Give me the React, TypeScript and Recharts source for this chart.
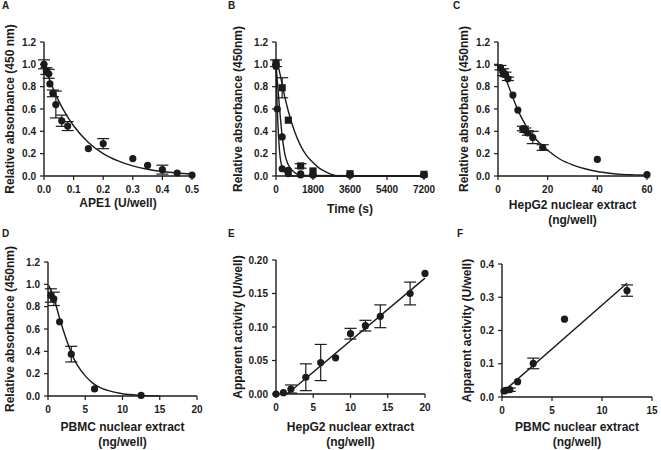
import React from "react";
import { ComposedChart, XAxis, YAxis, Line, Scatter, ErrorBar } from "recharts";

// A: APE1 titration
const apeDose = [0, 0.008, 0.016, 0.02, 0.03, 0.04, 0.06, 0.08, 0.15, 0.2, 0.3, 0.35, 0.4, 0.45, 0.5];
const apeAbs = [1.0, 0.94, 0.915, 0.825, 0.74, 0.64, 0.495, 0.447, 0.246, 0.29, 0.156, 0.096, 0.057, 0.027, 0.009];
const apeErr = [0.04, 0.03, 0.04, 0, 0.03, 0.12, 0.05, 0.04, 0, 0.045, 0, 0, 0.04, 0, 0];
const apeFitX = [0, 0.025, 0.05, 0.075, 0.1, 0.15, 0.2, 0.25, 0.3, 0.35, 0.4, 0.45, 0.5];
const apeFitY = [1.0, 0.82, 0.67, 0.55, 0.45, 0.3, 0.2, 0.135, 0.09, 0.06, 0.04, 0.027, 0.018];

// B: time course, three conditions
const timeSlow = [0, 300, 600, 1200, 1800, 3600, 7200];
const absSlow = [1.01, 0.79, 0.5, 0.09, 0.045, 0.02, 0.015];
const errSlow = [0.03, 0.09, 0, 0.02, 0, 0, 0];
const timeMid = [0, 300, 600, 1200, 1800, 3600, 7200];
const absMid = [1.0, 0.35, 0.05, 0.02, 0.01, 0.01, 0.01];
const timeFast = [0, 60, 300, 600, 1200, 1800, 3600, 7200];
const absFast = [0.98, 0.6, 0.065, 0.02, 0.01, 0.01, 0.01, 0.01];
const slowFitX = [0, 150, 300, 450, 600, 900, 1200, 1500, 1800, 2100, 2400, 2700, 3000, 7200];
const slowFitY = [1.05, 0.95, 0.82, 0.69, 0.58, 0.4, 0.27, 0.18, 0.12, 0.07, 0.04, 0.015, 0.0, 0.0];
const midFitX = [0, 100, 200, 300, 450, 600, 800, 1000, 1300, 7200];
const midFitY = [1.0, 0.77, 0.55, 0.36, 0.18, 0.1, 0.05, 0.02, 0.005, 0.0];
const fastFitX = [0, 50, 100, 150, 200, 300, 400, 600, 800, 7200];
const fastFitY = [1.0, 0.66, 0.44, 0.28, 0.17, 0.08, 0.04, 0.01, 0.0, 0.0];

// C: HepG2 nuclear extract titration
const hepDose = [1, 2, 3, 4, 6, 8, 10, 11, 12, 14, 18, 40, 60];
const hepAbs = [0.97, 0.93, 0.91, 0.87, 0.725, 0.59, 0.425, 0.41, 0.385, 0.345, 0.255, 0.148, 0.012];
const hepErr = [0.02, 0.03, 0.02, 0.015, 0, 0, 0.02, 0.02, 0.02, 0.055, 0.025, 0, 0];
const hepFitX = [0.5, 2, 4, 6, 8, 10, 12, 14, 17, 20, 25, 30, 35, 40, 45, 50, 55, 60];
const hepFitY = [0.99, 0.93, 0.82, 0.7, 0.59, 0.5, 0.42, 0.36, 0.29, 0.23, 0.15, 0.1, 0.065, 0.04, 0.025, 0.015, 0.01, 0.006];

// D: PBMC nuclear extract titration
const pbmcDose = [0.39, 0.78, 1.56, 3.125, 6.25, 12.5];
const pbmcAbs = [0.9, 0.87, 0.665, 0.375, 0.063, 0.005];
const pbmcErr = [0.06, 0.06, 0, 0.07, 0, 0];
const pbmcFitX = [0.1, 0.5, 1, 1.5, 2, 2.5, 3, 3.5, 4, 5, 6, 7, 8, 10, 12.5, 15];
const pbmcFitY = [0.99, 0.93, 0.83, 0.71, 0.6, 0.5, 0.41, 0.33, 0.27, 0.18, 0.115, 0.075, 0.05, 0.02, 0.006, 0.001];

// E: HepG2 apparent activity
const hepActDose = [0, 1, 2, 4, 6, 8, 10, 12, 14, 18, 20];
const hepAct = [0, 0.002, 0.0075, 0.025, 0.047, 0.054, 0.09, 0.102, 0.116, 0.15, 0.18];
const hepActErr = [0, 0, 0.006, 0.02, 0.027, 0, 0.008, 0.008, 0.017, 0.017, 0];
const hepLineX = [1.5, 20];
const hepLineY = [0.0, 0.173];

// F: PBMC apparent activity
const pbmcActDose = [0.2, 0.39, 0.78, 1.56, 3.125, 6.25, 12.5];
const pbmcAct = [0.018, 0.02, 0.022, 0.046, 0.101, 0.234, 0.32];
const pbmcActErr = [0, 0, 0.005, 0, 0.016, 0, 0.017];
const pbmcLineX = [0.2, 12.5];
const pbmcLineY = [0.018, 0.342];

const FONT = "'Liberation Sans', Arial, sans-serif";
const INK = "#1b1b1b";

const pts = (xs: number[], ys: number[], es?: number[]) =>
  xs.map((x, i) => ({ x, y: ys[i], e: es ? es[i] : 0 }));

const dot = (p: any) => <circle cx={p.cx} cy={p.cy} r={3.6} fill={INK} />;
const square = (p: any) => <rect x={p.cx - 3.6} y={p.cy - 3.6} width={7.2} height={7.2} fill={INK} />;

const tickStyle = { fontSize: 10, fontWeight: 700, fill: INK, fontFamily: FONT };
const titleStyle = { fontSize: 12, fontWeight: 700, fill: INK, fontFamily: FONT };

interface Series { data: { x: number; y: number; e: number }[]; shape: any; }

interface PanelProps {
  letter: string;
  ox: number; oy: number; w: number;
  L: number; R: number; T: number; B: number;
  xDomain: [number, number]; xTicks: number[]; xFmt?: (v: number) => string;
  yDomain: [number, number]; yTicks: number[]; yFmt: (v: number) => string;
  yTitle: string; yTitleX: number;
  xTitle: string[]; xTitleY: number;
  series: Series[];
  curves: { x: number; y: number }[][];
}

function Panel(p: PanelProps) {
  const h = 238;
  const top = p.T - p.oy;
  const plotH = p.B - p.T;
  const bottom = h - (p.B - p.oy) - 40;
  const right = p.w - (p.R - p.ox);
  const cy = top + plotH / 2;
  const cx = p.L - p.ox + (p.R - p.L) / 2;
  const axisProps = {
    stroke: INK,
    axisLine: { stroke: INK, strokeWidth: 1.4 },
    tickLine: { stroke: INK, strokeWidth: 1.2 },
    tickSize: 4,
    tick: tickStyle,
  };
  return (
    <div style={{ position: "absolute", left: p.ox, top: p.oy, width: p.w, height: h }}>
      <div style={{ position: "absolute", left: p.letter === "F" ? 17 : p.ox === 0 ? 2 : 13, top: p.oy === 0 ? 0 : 3, fontFamily: FONT, fontWeight: 700, fontSize: 10, color: INK }}>
        {p.letter}
      </div>
      <ComposedChart width={p.w} height={h} margin={{ top, right, bottom, left: 0 }}>
        <XAxis
          type="number" dataKey="x" domain={p.xDomain} ticks={p.xTicks} interval={0}
          tickFormatter={p.xFmt} tickMargin={6} height={40} {...axisProps}
          label={() => (
            <text x={cx} y={p.xTitleY} textAnchor="middle" dominantBaseline="central" style={titleStyle}>
              {p.xTitle.map((t, i) => (
                <tspan key={i} x={cx} dy={i === 0 ? 0 : 15}>{t}</tspan>
              ))}
            </text>
          )}
        />
        <YAxis
          type="number" dataKey="y" domain={p.yDomain} ticks={p.yTicks} interval={0}
          tickFormatter={p.yFmt} tickMargin={4} width={p.L - p.ox} {...axisProps}
          label={() => (
            <text x={p.yTitleX} y={cy} transform={`rotate(-90 ${p.yTitleX} ${cy})`}
              textAnchor="middle" dominantBaseline="central" style={titleStyle}>
              {p.yTitle}
            </text>
          )}
        />
        {p.curves.map((c, i) => (
          <Line key={"c" + i} data={c} dataKey="y" type="monotone" dot={false} activeDot={false}
            stroke={INK} strokeWidth={1.4} isAnimationActive={false} />
        ))}
        {p.series.map((s, i) => (
          <Scatter key={"s" + i} data={s.data} dataKey="y" shape={s.shape} isAnimationActive={false}>
            <ErrorBar dataKey="e" direction="y" width={6} stroke={INK} strokeWidth={1.2} />
          </Scatter>
        ))}
      </ComposedChart>
    </div>
  );
}

const f1 = (v: number) => v.toFixed(1);
const f2 = (v: number) => v.toFixed(2);
const absTicks = [0, 0.2, 0.4, 0.6, 0.8, 1.0, 1.2];

export default function App() {
  return (
    <div style={{ position: "absolute", left: 0, top: 0, width: 661, height: 450, background: "#fff", overflow: "hidden" }}>
      <Panel letter="A" ox={0} oy={0} w={215} L={44} R={192} T={42} B={176}
        xDomain={[0, 0.5]} xTicks={[0, 0.1, 0.2, 0.3, 0.4, 0.5]} xFmt={f1}
        yDomain={[0, 1.2]} yTicks={absTicks} yFmt={f1}
        yTitle="Relative absorbance (450 nm)" yTitleX={10}
        xTitle={["APE1 (U/well)"]} xTitleY={203}
        series={[{ data: pts(apeDose, apeAbs, apeErr), shape: dot }]}
        curves={[pts(apeFitX, apeFitY)]} />
      <Panel letter="B" ox={215} oy={0} w={225} L={276} R={424} T={42} B={176}
        xDomain={[0, 7200]} xTicks={[0, 1800, 3600, 5400, 7200]}
        yDomain={[0, 1.2]} yTicks={absTicks} yFmt={f1}
        yTitle="Relative absorbance (450nm)" yTitleX={23}
        xTitle={["Time (s)"]} xTitleY={209}
        series={[
          { data: pts(timeFast, absFast), shape: dot },
          { data: pts(timeMid, absMid), shape: dot },
          { data: pts(timeSlow, absSlow, errSlow), shape: square },
        ]}
        curves={[pts(fastFitX, fastFitY), pts(midFitX, midFitY), pts(slowFitX, slowFitY)]} />
      <Panel letter="C" ox={440} oy={0} w={221} L={498} R={647} T={42} B={176}
        xDomain={[0, 60]} xTicks={[0, 20, 40, 60]}
        yDomain={[0, 1.2]} yTicks={absTicks} yFmt={f1}
        yTitle="Relative absorbance (450nm)" yTitleX={24}
        xTitle={["HepG2 nuclear extract", "(ng/well)"]} xTitleY={205}
        series={[{ data: pts(hepDose, hepAbs, hepErr), shape: dot }]}
        curves={[pts(hepFitX, hepFitY)]} />
      <Panel letter="D" ox={0} oy={225} w={215} L={48} R={197} T={262} B={396}
        xDomain={[0, 20]} xTicks={[0, 5, 10, 15, 20]}
        yDomain={[0, 1.2]} yTicks={absTicks} yFmt={f1}
        yTitle="Relative absorbance (450nm)" yTitleX={10}
        xTitle={["PBMC nuclear extract", "(ng/well)"]} xTitleY={202}
        series={[{ data: pts(pbmcDose, pbmcAbs, pbmcErr), shape: dot }]}
        curves={[pts(pbmcFitX, pbmcFitY)]} />
      <Panel letter="E" ox={215} oy={225} w={225} L={276} R={425} T={260} B={394}
        xDomain={[0, 20]} xTicks={[0, 5, 10, 15, 20]}
        yDomain={[0, 0.2]} yTicks={[0, 0.05, 0.1, 0.15, 0.2]} yFmt={f2}
        yTitle="Apparent activity (U/well)" yTitleX={23}
        xTitle={["HepG2 nuclear extract", "(ng/well)"]} xTitleY={202}
        series={[{ data: pts(hepActDose, hepAct, hepActErr), shape: dot }]}
        curves={[pts(hepLineX, hepLineY)]} />
      <Panel letter="F" ox={440} oy={225} w={221} L={502} R={652} T={264} B={397}
        xDomain={[0, 15]} xTicks={[0, 5, 10, 15]}
        yDomain={[0, 0.4]} yTicks={[0, 0.1, 0.2, 0.3, 0.4]} yFmt={f1}
        yTitle="Apparent activity (U/well)" yTitleX={27}
        xTitle={["PBMC nuclear extract", "(ng/well)"]} xTitleY={202}
        series={[{ data: pts(pbmcActDose, pbmcAct, pbmcActErr), shape: dot }]}
        curves={[pts(pbmcLineX, pbmcLineY)]} />
    </div>
  );
}
